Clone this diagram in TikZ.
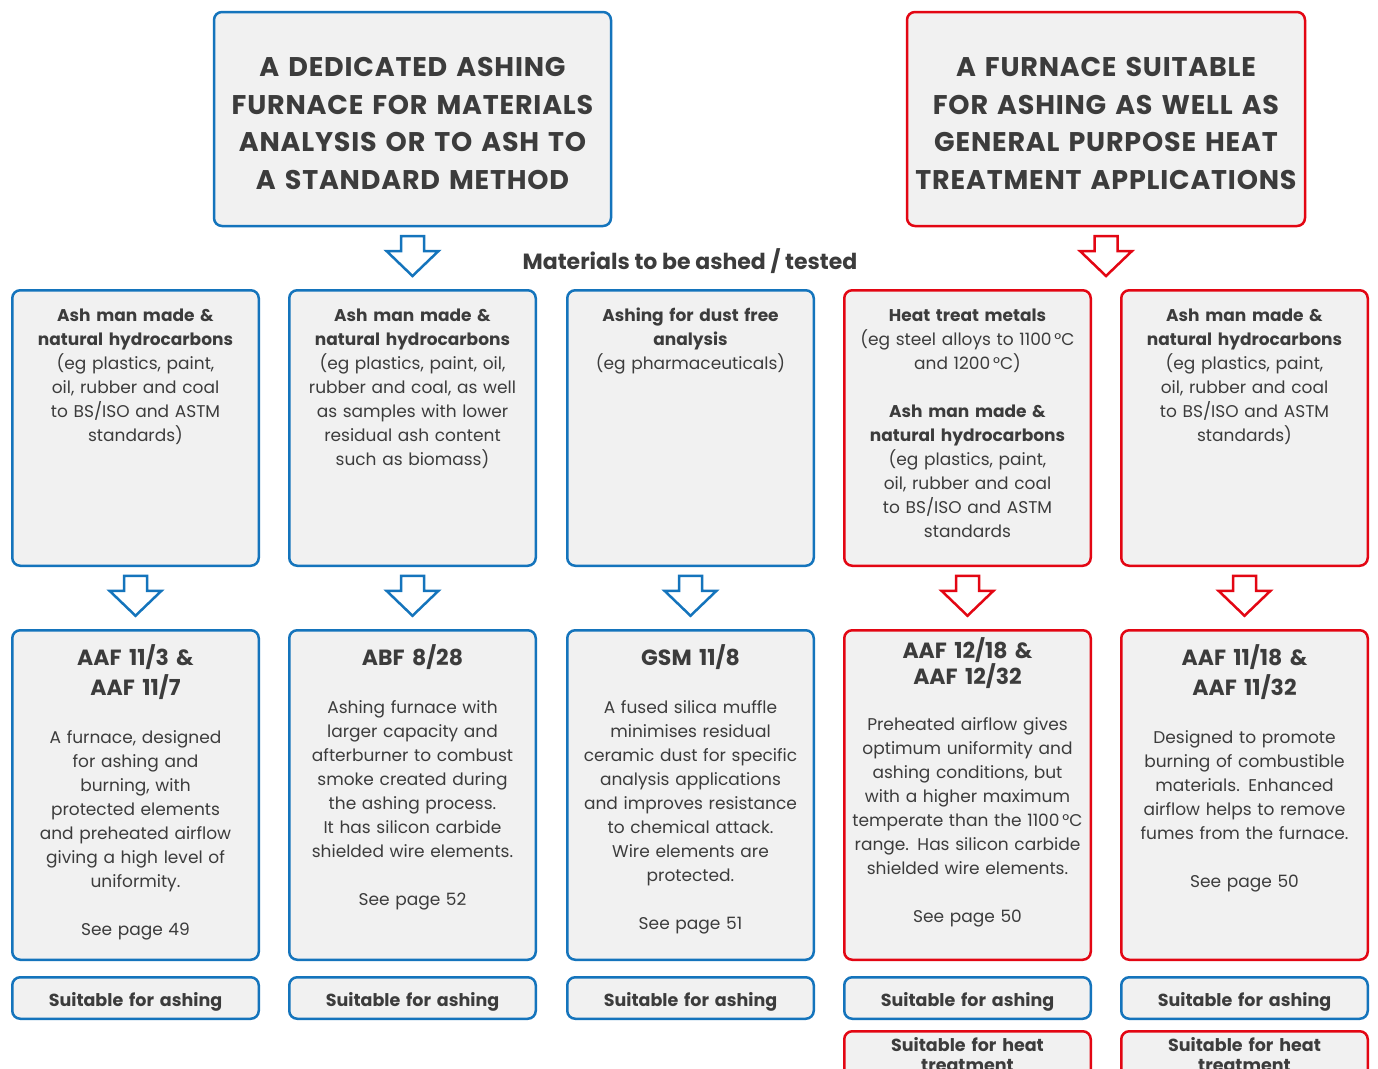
\documentclass[tikz,border=0pt]{standalone}
\usepackage{fontspec}
\setmainfont{Poppins}
\usetikzlibrary{calc}
\definecolor{cblue}{HTML}{1474BC}
\definecolor{cred}{HTML}{E30613}
\definecolor{cfill}{HTML}{F1F1F1}
\definecolor{ctext}{HTML}{3C3C3C}
\tikzset{
  boxbase/.style={draw, line width=2.5pt, rounded corners=8pt, fill=cfill, inner sep=0pt, outer sep=0pt, anchor=north west, minimum width=246.5pt},
  bluebox/.style={boxbase, draw=cblue},
  redbox/.style={boxbase, draw=cred},
  txt/.style={text=ctext, align=center, text width=#1, inner sep=0pt, anchor=base},
  bodyf/.style={font=\fontsize{17}{24}\selectfont},
  headf/.style={font=\fontsize{27}{37.5}\selectfont\bfseries\addfontfeature{LetterSpace=3}},
  titlef/.style={font=\fontsize{22}{30}\selectfont\bfseries},
  labf/.style={font=\fontsize{17.5}{20}\selectfont\bfseries},
  downarrow/.pic={\path[pic actions, line width=2.5pt, fill=white, line join=miter]
    (-11.5,0) -- (11.5,0) -- (11.5,15) -- (26,15) -- (0,40) -- (-26,15) -- (-11.5,15) -- cycle;}
}
\begin{document}
\begin{tikzpicture}[x=1pt,y=-1pt]
\clip (0,0) rectangle (1378,1068);
\fill[white] (0,0) rectangle (1378,1068);
% headers
\node[bluebox, minimum width=397pt, minimum height=214pt] (hL) at (214,12) {};
\node[redbox, minimum width=398pt, minimum height=214pt] (hR) at (907,12) {};
\node[txt=395pt, headf] (hLt) at (412.5,76.5) {A DEDICATED ASHING\\FURNACE FOR MATERIALS\\ANALYSIS OR TO ASH TO\\A STANDARD METHOD};
\node[txt=395pt, headf] (hRt) at (1106,76.5) {A FURNACE SUITABLE\\FOR ASHING AS WELL AS\\GENERAL PURPOSE HEAT\\TREATMENT APPLICATIONS};
\pic[draw=cblue] at ($(hL.south)+(0,10)$) {downarrow};
\pic[draw=cred] at ($(hR.south)+(0,10)$) {downarrow};
\node[text=ctext, inner sep=0pt, anchor=base, font=\fontsize{22}{24}\selectfont\bfseries] (mat) at (690,269.5) {Materials to be ashed / tested};
% boxes
\foreach \n/\x/\s in {1/12.25/bluebox,2/289.25/bluebox,3/567.25/bluebox,4/844.25/redbox,5/1121.25/redbox}{
  \node[\s, minimum height=275.5pt] (a\n) at (\x,290.25) {};
  \node[\s, minimum height=329.5pt] (b\n) at (\x,630.25) {};
}
\foreach \n/\x in {1/12.25,2/289.25,3/567.25,4/844.25,5/1121.25}{
  \node[bluebox, minimum height=41.5pt] (c\n) at (\x,977.25) {};
}
\node[redbox, minimum height=60pt] (d4) at (844.25,1031.25) {};
\node[redbox, minimum height=60pt] (d5) at (1121.25,1031.25) {};
\foreach \n/\c in {1/cblue,2/cblue,3/cblue,4/cred,5/cred}{
  \pic[draw=\c] at ($(a\n.south)+(0,10)$) {downarrow};
}
% row 1 texts
\node[txt=245pt, bodyf] (at1) at (a1.north |- 0,321) {\textbf{Ash man made \&}\\\textbf{natural hydrocarbons}\\(eg plastics, paint,\\oil, rubber and coal\\to BS/ISO and ASTM\\standards)};
\node[txt=245pt, bodyf] (at2) at (a2.north |- 0,321) {\textbf{Ash man made \&}\\\textbf{natural hydrocarbons}\\(eg plastics, paint, oil,\\rubber and coal, as well\\as samples with lower\\residual ash content\\such as biomass)};
\node[txt=245pt, bodyf] (at3) at (a3.north |- 0,321) {\textbf{Ashing for dust free}\\\textbf{analysis}\\(eg pharmaceuticals)};
\node[txt=245pt, bodyf] (at4) at (a4.north |- 0,321) {\textbf{Heat treat metals}\\(eg steel alloys to 1100\,°C\\and 1200\,°C)\\[24pt]\textbf{Ash man made \&}\\\textbf{natural hydrocarbons}\\(eg plastics, paint,\\oil, rubber and coal\\to BS/ISO and ASTM\\standards};
\node[txt=245pt, bodyf] (at5) at (a5.north |- 0,321) {\textbf{Ash man made \&}\\\textbf{natural hydrocarbons}\\(eg plastics, paint,\\oil, rubber and coal\\to BS/ISO and ASTM\\standards)};
% row 2 titles
\node[txt=245pt, titlef] (bt1) at (b1.north |- 0,665.5) {AAF 11/3 \&\\AAF 11/7};
\node[txt=245pt, titlef] (bt2) at (b2.north |- 0,665.5) {ABF 8/28};
\node[txt=245pt, titlef] (bt3) at (b3.north |- 0,665.5) {GSM 11/8};
\node[txt=245pt, titlef, font=\fontsize{22}{24}\selectfont\bfseries] (bt4) at (b4.north |- 0,658.5) {AAF 12/18 \&\\AAF 12/32};
\node[txt=245pt, titlef] (bt5) at (b5.north |- 0,665.5) {AAF 11/18 \&\\AAF 11/32};
% row 2 bodies
\node[txt=245pt, bodyf] (bb1) at (b1.north |- 0,743) {A furnace, designed\\for ashing and\\burning, with\\protected elements\\and preheated airflow\\giving a high level of\\uniformity.};
\node[txt=245pt, bodyf] (bb2) at (b2.north |- 0,713) {Ashing furnace with\\larger capacity and\\afterburner to combust\\smoke created during\\the ashing process.\\It has silicon carbide\\shielded wire elements.};
\node[txt=245pt, bodyf] (bb3) at (b3.north |- 0,713) {A fused silica muffle\\minimises residual\\ceramic dust for specific\\analysis applications\\and improves resistance\\to chemical attack.\\Wire elements are\\protected.};
\node[txt=245pt, bodyf] (bb4) at (b4.north |- 0,730) {Preheated airflow gives\\optimum uniformity and\\ashing conditions, but\\with a higher maximum\\temperate than the 1100\,°C\\range. Has silicon carbide\\shielded wire elements.};
\node[txt=245pt, bodyf] (bb5) at (b5.north |- 0,743) {Designed to promote\\burning of combustible\\materials. Enhanced\\airflow helps to remove\\fumes from the furnace.};
\node[txt=245pt, bodyf] (bp1) at (b1.north |- 0,935) {See page 49};
\node[txt=245pt, bodyf] (bp2) at (b2.north |- 0,905) {See page 52};
\node[txt=245pt, bodyf] (bp3) at (b3.north |- 0,929) {See page 51};
\node[txt=245pt, bodyf] (bp4) at (b4.north |- 0,922) {See page 50};
\node[txt=245pt, bodyf] (bp5) at (b5.north |- 0,887) {See page 50};
% bottom labels
\foreach \n in {1,2,3,4,5}{
  \node[txt=245pt, labf] (cl\n) at (c\n.north |- 0,1006) {Suitable for ashing};
}
\node[txt=245pt, labf] (dl4) at (d4.north |- 0,1051) {Suitable for heat\\treatment};
\node[txt=245pt, labf] (dl5) at (d5.north |- 0,1051) {Suitable for heat\\treatment};
\end{tikzpicture}
\end{document}
